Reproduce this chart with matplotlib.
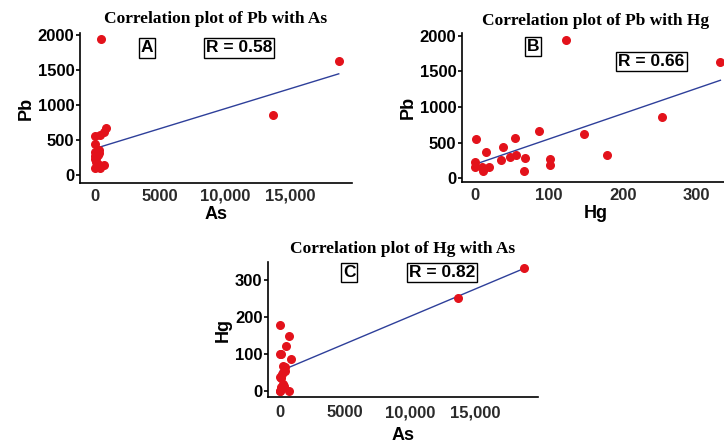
import numpy as np
import matplotlib.pyplot as plt
from matplotlib.ticker import FuncFormatter

# samples: arsenic, lead, mercury
As = [10, 0, 700, 120, 40, 280, 250, 60, 20, 130, 380, 300, 200, 420,
      880, 0, 100, 460, 700, 0, 13700, 18750]
Pb = [555, 230, 150, 155, 95, 360, 155, 250, 440, 295, 565, 320, 285, 95,
      665, 270, 190, 1940, 615, 330, 860, 1630]
Hg = [1, 0, 0, 9, 11, 15, 19, 35, 38, 47, 54, 55, 67, 66,
      86, 101, 101, 123, 148, 179, 253, 332]

panels = [
    # x, y, xlabel, ylabel, title, letter, R text
    (As, Pb, "As", "Pb", "Correlation plot of Pb with As", "A", "R = 0.58"),
    (Hg, Pb, "Hg", "Pb", "Correlation plot of Pb with Hg", "B", "R = 0.66"),
    (As, Hg, "As", "Hg", "Correlation plot of Hg with As", "C", "R = 0.82"),
]
xticks = [[0, 5000, 10000, 15000], [0, 100, 200, 300], [0, 5000, 10000, 15000]]
yticks = [[0, 500, 1000, 1500, 2000], [0, 500, 1000, 1500, 2000], [0, 100, 200, 300]]

W, H = 724, 446
fig = plt.figure(figsize=(W / 100, H / 100), dpi=100)

# pixel boxes: left, top, right, bottom
boxes = [(80, 33, 352, 183), (462, 33, 730, 182), (268, 262, 538, 397)]
xlims = [(-1150, 19770), (-17.6, 345), (-923, 19846)]
ylims = [(-114, 2028), (-56, 2042), (-16, 349)]
# label box centres in axes fraction
letter_pos = [(0.246, 0.90), (0.265, 0.91), (0.30, 0.92)]
r_pos = [(0.585, 0.90), (0.707, 0.81), (0.645, 0.92)]
title_pad = [7.5, 5.5, 6.5]
xtick_pad = [4, 4, 6]
xlabel_pad = [2, 2, 5]

red = "#e3121b"
blue = "#2e3f9a"
comma = FuncFormatter(lambda v, p: f"{int(v):,}" if v >= 10000 else f"{int(v)}")

for i, (x, y, xl, yl, title, letter, rtxt) in enumerate(panels):
    l, t, r, b = boxes[i]
    ax = fig.add_axes([l / W, 1 - b / H, (r - l) / W, (b - t) / H])
    ax.scatter(x, y, s=30, color=red, zorder=3, clip_on=False)
    xa = np.array(x, dtype=float)
    k, c = np.polyfit(xa, np.array(y, dtype=float), 1)
    xs = np.array([xa.min(), xa.max()])
    ax.plot(xs, k * xs + c, color=blue, lw=1.0, zorder=2)

    ax.set_xlim(*xlims[i])
    ax.set_ylim(*ylims[i])
    ax.set_xticks(xticks[i])
    ax.set_yticks(yticks[i])
    ax.xaxis.set_major_formatter(comma)
    for s in ["top", "right"]:
        ax.spines[s].set_visible(False)
    for s in ["left", "bottom"]:
        ax.spines[s].set_linewidth(1.2)
    ax.tick_params(axis="x", length=0, pad=xtick_pad[i], labelsize=12, labelcolor="#2a2a2a")
    ax.tick_params(axis="y", length=3, width=1.2, pad=1, labelsize=12)
    for lab in ax.get_xticklabels() + ax.get_yticklabels():
        lab.set_fontfamily("Liberation Sans")
        lab.set_fontweight("bold")
    ax.set_xlabel(xl, fontsize=13, fontweight="bold", family="Liberation Sans",
                  labelpad=xlabel_pad[i])
    ax.set_ylabel(yl, fontsize=13, fontweight="bold", family="Liberation Sans", labelpad=2)
    ax.set_title(title, fontsize=12.5, fontweight="bold", family="Liberation Serif",
                 pad=title_pad[i])
    boxstyle = dict(boxstyle="square,pad=0.12", facecolor="white", edgecolor="black", lw=1.0)
    ax.text(*letter_pos[i], letter, transform=ax.transAxes, ha="center", va="center",
            fontsize=12.5, fontweight="bold", family="Liberation Sans", bbox=boxstyle)
    ax.text(*r_pos[i], rtxt, transform=ax.transAxes, ha="center", va="center",
            fontsize=12.5, fontweight="bold", family="Liberation Sans", bbox=boxstyle)

fig.savefig("out.png", dpi=100)
